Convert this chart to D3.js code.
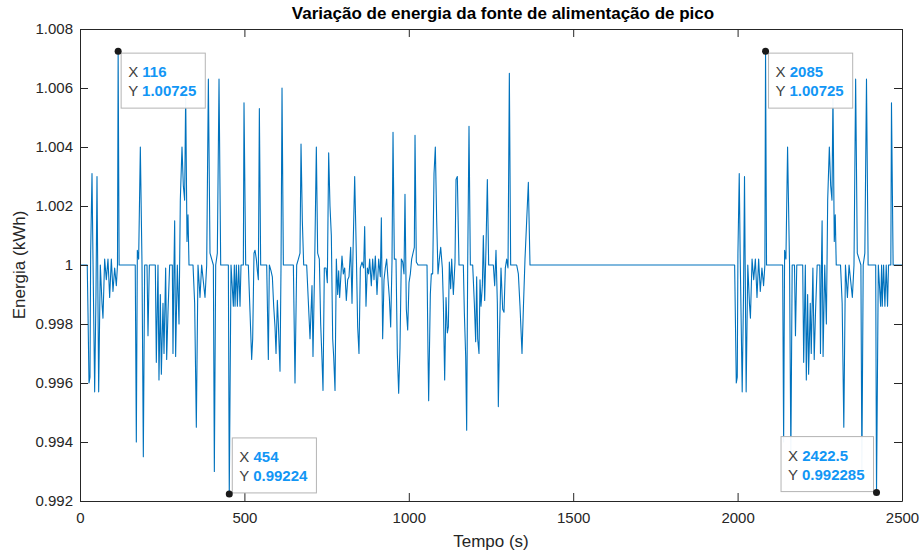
<!DOCTYPE html>
<html>
<head>
<meta charset="utf-8">
<script src="https://cdn.jsdelivr.net/npm/d3@7"></script>
<style>
  html, body { margin: 0; padding: 0; background: #ffffff; }
  svg { display: block; font-family: "Liberation Sans", Arial, Helvetica, sans-serif; }
</style>
</head>
<body>
<svg id="chart" width="922" height="554"></svg>
<script>
// ---------------- data ----------------
const titulo = "Variação de energia da fonte de alimentação de pico";
const rotuloX = "Tempo (s)";
const rotuloY = "Energia (kWh)";

const xTicks = [0, 500, 1000, 1500, 2000, 2500];
const yTicks = [0.992, 0.994, 0.996, 0.998, 1.000, 1.002, 1.004, 1.006, 1.008];
const yTickLabels = ["0.992", "0.994", "0.996", "0.998", "1", "1.002", "1.004", "1.006", "1.008"];

// first active period  [tempo (s), energia (kWh)]
const serie1 = [
  [0,1.0000],[22,1.0000],[24.3,0.9984],[27.4,0.9960],[30.4,0.9962],[32.4,1.0004],[36.5,1.0031],[39.5,1.0002],
  [44.6,0.9957],[48.6,0.9990],[51.7,1.0030],[56.8,0.9957],[61.8,1.0000],[66.9,0.9987],[69.9,0.9982],[75,1.0002],
  [80.1,0.9995],[85.1,1.0002],[90.2,0.9989],[95.3,1.0002],[100.3,0.9991],[105.4,0.9999],[110.5,0.9993],[114,1.0000],
  [116,1.00725],[119,1.0000],[168,1.0000],[171.3,0.9940],[174.4,1.0005],[178.4,1.0002],[183.5,1.0040],[188.6,1.0000],
  [192.6,0.9935],[196.7,1.0000],[203.8,1.0000],[206.8,0.9976],[210.9,1.0000],[229.1,1.0000],[232.1,0.9967],[237.2,1.0000],
  [240.2,0.9961],[244.3,0.9990],[247.4,0.9963],[252.4,0.9987],[255.5,0.9970],[260.5,0.9999],[263.6,0.9968],[267.6,0.9984],
  [272.7,1.0000],[280.8,1.0000],[282.8,0.9970],[285.9,1.0000],[287.9,1.0015],[290.9,0.9969],[296,1.0000],[301.1,0.9980],
  [305.1,1.0022],[310.2,1.0040],[314.2,1.0027],[318.3,1.0022],[321.4,1.0058],[325.4,1.0008],[328.5,1.0017],[331.5,1.0000],
  [343.7,1.0000],[348.7,0.9987],[353.8,0.9945],[358.9,1.0000],[365,0.9989],[370,1.0000],[380.2,0.9989],[385.3,1.0000],
  [390.4,1.0063],[395.4,1.0004],[405.6,1.0000],[408.6,0.9930],[412.7,1.0000],[417.7,1.0004],[422.8,1.0063],[427.9,1.0000],
  [451.2,1.0000],[454,0.99224],[459.3,1.0000],[466.4,0.9986],[469.4,1.0000],[471.5,0.9986],[475.5,1.0000],[478.6,0.9986],
  [482.6,1.0000],[486.7,0.9986],[489.7,1.0000],[496.8,1.0000],[498.8,1.0055],[503.9,1.0000],[512,1.0000],[517.1,0.9984],
  [522.1,0.9968],[525.2,0.9975],[529.2,1.0004],[532.3,1.0005],[536.3,1.0002],[539.4,0.9998],[542.4,0.9995],[545.5,1.0053],
  [549.5,1.0000],[567.8,1.0000],[572.8,0.9968],[575.9,1.0000],[581,0.9998],[585,0.9996],[589.1,0.9986],[593.1,0.9979],
  [596.2,0.9970],[600.2,0.9988],[603.3,0.9980],[608.3,0.9964],[611.4,1.0000],[614.4,1.0060],[618.5,1.0000],[648.9,1.0000],
  [653.9,0.9960],[659,1.0000],[664.1,1.0002],[669.1,1.0004],[672.2,1.0041],[676.2,1.0015],[680.3,1.0000],[689.4,1.0000],
  [699.6,0.9975],[705.6,0.9993],[708.6,0.9969],[713.7,1.0000],[718.8,1.0040],[722.8,1.0004],[727.9,1.0002],[732,0.9980],
  [736,0.9968],[739.1,0.99575],[743.1,0.9999],[748.2,0.9999],[752.2,0.9994],[756.3,1.0038],[760.3,1.0020],[764.4,1.0010],
  [768.5,0.9975],[771.5,0.9969],[775.6,0.99575],[779.6,1.0002],[783.7,0.9990],[786.7,0.9998],[789.7,0.9989],[793.8,0.9997],
  [796.8,1.0003],[800.9,0.9997],[805,0.9999],[810,0.9988],[814.1,0.9995],[818.1,0.9996],[823.2,1.0006],[827.3,0.9987],
  [830.3,1.0004],[835.4,1.0030],[840.4,1.0004],[844.5,0.9979],[848.5,0.9970],[852.6,0.9999],[857.7,1.0001],[862.7,0.9999],
  [865.8,1.0013],[869.8,0.9986],[873.9,0.9999],[877.9,0.9997],[881,1.0002],[886,0.9993],[890.1,1.0002],[894.2,0.9995],
  [898.2,1.0003],[903.3,0.9990],[908.4,1.0002],[913.4,0.9996],[916.5,1.0016],[920.5,0.9975],[924.6,0.9995],[928.6,0.9999],
  [932.7,1.0002],[936.8,0.9995],[940.8,0.9989],[944.9,0.9979],[948.9,1.0001],[952,1.0045],[956,1.0002],[961.1,1.0002],
  [965.1,0.9970],[969.2,0.99565],[973.2,0.9972],[977.3,1.0002],[981.4,1.0001],[985.4,0.9997],[988.4,1.0024],[992.5,0.9985],
  [996.6,0.9978],[1000.6,0.9994],[1004.7,0.9997],[1008.7,1.0002],[1012.8,1.0004],[1016.8,1.0006],[1018.9,1.0044],[1022.9,1.0001],
  [1028,1.0000],[1055.4,1.0000],[1058.4,0.9970],[1060.4,0.9954],[1065.5,0.9990],[1068.5,0.9997],[1072.6,0.9997],[1076.7,1.0031],
  [1080.7,1.0040],[1084.8,1.0015],[1088.8,0.9997],[1092.9,1.0002],[1097,1.0006],[1102,0.9999],[1105.1,0.9987],[1109.1,0.9961],
  [1113.2,0.9989],[1117.2,0.9977],[1120.3,0.9979],[1123.3,1.0001],[1127.4,0.9992],[1130.4,1.0002],[1135.5,0.9990],[1140.5,1.0001],
  [1143.6,1.0029],[1147.6,1.0030],[1152.7,1.0000],[1165.9,1.0000],[1168.9,0.9984],[1173,0.9969],[1176,0.9944],[1179.1,1.0000],
  [1183.1,1.0047],[1187.2,1.0000],[1194.3,1.0000],[1199.3,0.9987],[1203.4,0.9974],[1206.4,0.9996],[1209.5,0.9975],[1213.5,0.9970],
  [1216.6,0.9995],[1219.6,0.9986],[1223.7,0.9993],[1226.7,1.0010],[1230.8,0.9988],[1234.8,1.0006],[1238.9,1.0029],[1242.9,1.0000],
  [1257.1,1.0000],[1261.2,0.9993],[1265.2,1.0005],[1269.3,0.9987],[1272.3,0.9952],[1276.4,0.9979],[1280.4,0.9999],[1285.5,0.9985],
  [1289.6,0.9984],[1293.6,0.9999],[1297.7,1.0002],[1301.7,0.9999],[1305.8,1.0065],[1309.8,1.0000],[1328.1,1.0000],[1333.2,0.9997],
  [1338.2,0.9986],[1344.3,0.9970],[1348.4,0.9985],[1353.4,1.0002],[1358.5,1.0015],[1363.6,1.0028],[1368.6,1.0000]
];

// second active period  [tempo (s), energia (kWh)]
const serie2 = [
  [1991,1.0000],[1993,0.9984],[1996,0.9960],[1999,0.9962],[2001,1.0004],[2005,1.0031],[2008,1.0002],[2014,0.9957],
  [2018,0.9990],[2021,1.0030],[2026,0.9957],[2031,1.0000],[2036,0.9987],[2039,0.9982],[2044,1.0002],[2049,0.9995],
  [2054,1.0002],[2059,0.9989],[2064,1.0002],[2069,0.9991],[2074,0.9999],[2079,0.9993],[2083,1.0000],[2085,1.00725],
  [2088,1.0000],[2137,1.0000],[2140,0.9940],[2143,1.0005],[2147,1.0002],[2152,1.0040],[2158,1.0000],[2162,0.9935],
  [2166,1.0000],[2173,1.0000],[2176,0.9976],[2180,1.0000],[2198,1.0000],[2201,0.9967],[2206,1.0000],[2209,0.9961],
  [2213,0.9990],[2216,0.9963],[2221,0.9987],[2224,0.9970],[2229,0.9999],[2233,0.9968],[2237,0.9984],[2242,1.0000],
  [2250,1.0000],[2252,0.9970],[2255,1.0000],[2257,1.0015],[2260,0.9969],[2265,1.0000],[2270,0.9980],[2274,1.0022],
  [2279,1.0040],[2283,1.0027],[2287,1.0022],[2290,1.0058],[2294,1.0008],[2297,1.0017],[2300,1.0000],[2313,1.0000],
  [2318,0.9987],[2323,0.9945],[2328,1.0000],[2334,0.9989],[2339,1.0000],[2349,0.9989],[2354,1.0000],[2359,1.0063],
  [2364,1.0004],[2375,1.0000],[2378,0.9930],[2382,1.0000],[2387,1.0004],[2392,1.0063],[2397,1.0000],[2420,1.0000],
  [2422.5,0.992285],[2428,1.0000],[2435,0.9986],[2438,1.0000],[2440,0.9986],[2444,1.0000],[2448,0.9986],[2452,1.0000],
  [2456,0.9986],[2459,1.0000],[2466,1.0000],[2468,1.0055],[2473,1.0000],[2500,1.0000]
];

// data tips shown on the figure: [X, Y, placement]
const dataTips = [
  [116, 1.00725, "below-right"],
  [454, 0.99224, "above-right"],
  [2085, 1.00725, "below-right"],
  [2422.5, 0.992285, "above-left"]
];

// ---------------- drawing ----------------
const svg = d3.select("#chart");
const W = 922, H = 554;
const plot = { left: 80, right: 902, top: 29, bottom: 501 };
const axisColor = "#262626";
const lineColor = "#0072BD";
const tipValueColor = "#1296F5";
const fontSize = 15;

svg.append("rect").attr("width", W).attr("height", H).attr("fill", "#ffffff");

const x = d3.scaleLinear().domain([0, 2500]).range([plot.left, plot.right]);
const y = d3.scaleLinear().domain([0.992, 1.008]).range([plot.bottom, plot.top]);

svg.append("rect")
  .attr("x", plot.left).attr("y", plot.top)
  .attr("width", plot.right - plot.left).attr("height", plot.bottom - plot.top)
  .attr("fill", "#ffffff");

// data line
const dados = serie1.concat(serie2);
svg.append("path")
  .datum(dados)
  .attr("fill", "none")
  .attr("stroke", lineColor)
  .attr("stroke-width", 1.1)
  .attr("stroke-linejoin", "round")
  .attr("d", d3.line().x(d => x(d[0])).y(d => y(d[1])));

// axes
const tickLen = 8;
function styleAxis(g, labels) {
  g.selectAll("path").attr("stroke", axisColor).attr("stroke-width", 1);
  g.selectAll("line").attr("stroke", axisColor).attr("stroke-width", 1);
  g.selectAll("text").attr("fill", axisColor).style("font-size", fontSize + "px")
    .style("font-family", '"Liberation Sans", Arial, Helvetica, sans-serif');
  if (!labels) g.selectAll("text").remove();
}
const gx = svg.append("g").attr("transform", `translate(0,${plot.bottom})`)
  .call(d3.axisBottom(x).tickValues(xTicks).tickFormat(d3.format("d"))
    .tickSizeInner(-tickLen).tickSizeOuter(0).tickPadding(11));
styleAxis(gx, true);
const gxt = svg.append("g").attr("transform", `translate(0,${plot.top})`)
  .call(d3.axisTop(x).tickValues(xTicks).tickSizeInner(-tickLen).tickSizeOuter(0));
styleAxis(gxt, false);
const gy = svg.append("g").attr("transform", `translate(${plot.left},0)`)
  .call(d3.axisLeft(y).tickValues(yTicks).tickFormat((d, i) => yTickLabels[i])
    .tickSizeInner(-tickLen).tickSizeOuter(0).tickPadding(7));
styleAxis(gy, true);
const gyr = svg.append("g").attr("transform", `translate(${plot.right},0)`)
  .call(d3.axisRight(y).tickValues(yTicks).tickSizeInner(-tickLen).tickSizeOuter(0));
styleAxis(gyr, false);

// title & axis labels
svg.append("text")
  .attr("x", (plot.left + plot.right) / 2 + 12).attr("y", 19)
  .attr("text-anchor", "middle").attr("fill", "#000")
  .style("font-size", "17px").style("font-weight", "bold")
  .text(titulo);
svg.append("text")
  .attr("x", (plot.left + plot.right) / 2).attr("y", 547)
  .attr("text-anchor", "middle").attr("fill", axisColor)
  .style("font-size", "17px")
  .text(rotuloX);
svg.append("text")
  .attr("transform", `translate(25,${(plot.top + plot.bottom) / 2}) rotate(-90)`)
  .attr("text-anchor", "middle").attr("fill", axisColor)
  .style("font-size", "17px")
  .text(rotuloY);

// data tips
const tipFont = 15;
dataTips.forEach(([tx, ty, place]) => {
  const px = x(tx), py = y(ty);
  const g = svg.append("g");
  const box = g.append("rect");
  const t1 = g.append("text").style("font-size", tipFont + "px");
  t1.append("tspan").attr("fill", "#404040").text("X ");
  t1.append("tspan").attr("fill", tipValueColor).style("font-weight", "bold").text(String(tx));
  const t2 = g.append("text").style("font-size", tipFont + "px");
  t2.append("tspan").attr("fill", "#404040").text("Y ");
  t2.append("tspan").attr("fill", tipValueColor).style("font-weight", "bold").text(String(ty));
  const tw = Math.max(t1.node().getComputedTextLength(), t2.node().getComputedTextLength());
  const bw = tw + 16, bh = 55;
  let bx, by;
  if (place === "below-right") { bx = px + 3; by = py + 2; }
  else if (place === "above-right") { bx = px + 3; by = py - bh - 1; }
  else { bx = px - 3 - bw; by = py - bh - 1; }
  box.attr("x", bx).attr("y", by).attr("width", bw).attr("height", bh)
    .attr("fill", "#ffffff").attr("fill-opacity", 0.95)
    .attr("stroke", "#b4b4b4").attr("stroke-width", 1);
  t1.attr("x", bx + 7).attr("y", by + 24);
  t2.attr("x", bx + 7).attr("y", by + 43);
  svg.append("circle").attr("cx", px).attr("cy", py).attr("r", 3.5).attr("fill", "#1a1a1a");
});
</script>
</body>
</html>
